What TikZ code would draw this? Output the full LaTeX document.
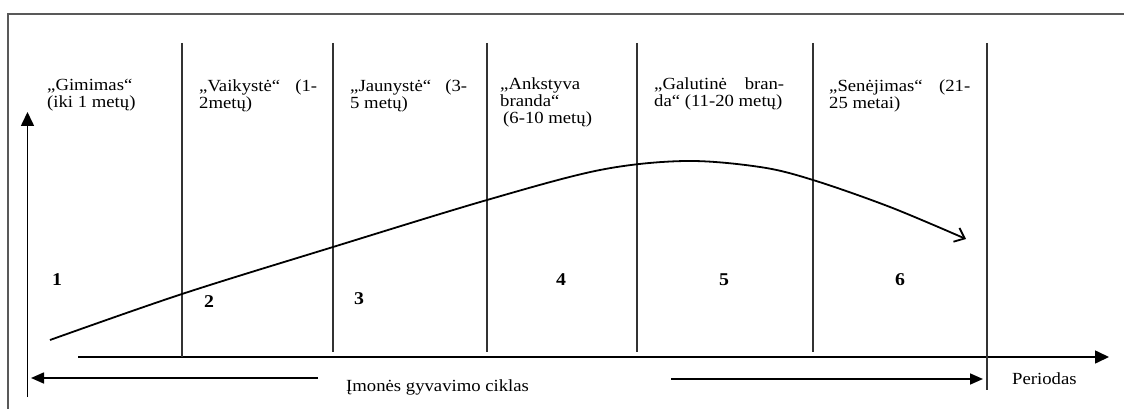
\documentclass[tikz,border=0pt]{standalone}
\usepackage{fontspec}
\setmainfont{Liberation Serif}[FakeStretch=1.1]
\usetikzlibrary{arrows.meta}
\newcommand\lnA[1]{\hbox{\strut #1}}
\begin{document}
\begin{tikzpicture}[x=1pt,y=-1pt,
  lbl/.style={anchor=base west, inner sep=0pt, font=\fontsize{17}{17}\selectfont},
  num/.style={anchor=base, inner sep=0pt, font=\fontsize{18}{18}\selectfont\bfseries},
  divider/.style={line width=1.4pt, black!80},
  frameline/.style={line width=2pt, black!65},
  axisline/.style={line width=1.6pt, -{Triangle[length=14pt,width=13pt]}},
  spanarrow/.style={line width=1.6pt, -{Triangle[length=13pt,width=11pt]}},
  curveline/.style={line width=1.8pt, -{Straight Barb[length=9pt,width=15pt]}}]
\useasboundingbox (0,0) rectangle (1124,409);
% frame
\draw[frameline] (8,409) -- (8,14) -- (1124,14);
% coordinates
\coordinate (vb) at (27.5,397);
\coordinate (vt) at (27.5,112);
\coordinate (hl) at (78,357);
\coordinate (hr) at (1109,357);
\coordinate (d1t) at (182,43); \coordinate (d1b) at (182,357);
\coordinate (d2t) at (333,43); \coordinate (d2b) at (333,352);
\coordinate (d3t) at (487,43); \coordinate (d3b) at (487,352);
\coordinate (d4t) at (637,43); \coordinate (d4b) at (637,352);
\coordinate (d5t) at (813,43); \coordinate (d5b) at (813,352);
\coordinate (d6t) at (987,43); \coordinate (d6b) at (987,390);
\coordinate (la) at (318,378); \coordinate (lt) at (31,378);
\coordinate (ra) at (671,379); \coordinate (rt) at (983,379);
% axes
\draw[axisline] (vb) -- (vt);
\draw[axisline] (hl) -- (hr);
% dividers
\foreach \i in {1,...,6} \draw[divider] (d\i t) -- (d\i b);
% span arrows
\draw[spanarrow] (la) -- (lt);
\draw[spanarrow] (ra) -- (rt);
% curve
\draw[curveline] plot[smooth, tension=0.55] coordinates
  {(50,340) (182,294) (333,247) (487,200) (600,170) (685,161) (760,167) (813,180) (890,207) (966,239)};
% stage labels
\node[lbl] (s1) at (47,91) {\vtop{\hbox{„Gimimas“}\hbox{(iki 1 metų)}}};
\node[lbl] (s2) at (199,92) {\vtop{\hbox{\makebox[118pt][s]{„Vaikystė“ (1-}}\hbox{2metų)}}};
\node[lbl] (s3) at (350,92) {\vtop{\hbox{\makebox[117pt][s]{„Jaunystė“ (3-}}\hbox{5 metų)}}};
\node[lbl] (s4) at (500,90) {\vtop{\hbox{„Ankstyva}\hbox{branda“}\hbox{\hspace{3pt}(6-10 metų)}}};
\node[lbl] (s5) at (654,90) {\vtop{\hbox{\makebox[130pt][s]{„Galutinė bran-}}\hbox{da“ (11-20 metų)}}};
\node[lbl] (s6) at (829,92) {\vtop{\hbox{\makebox[141pt][s]{„Senėjimas“ (21-}}\hbox{25 metai)}}};
% numbers
\node[num] (n1) at (57,285) {1};
\node[num] (n2) at (209,307) {2};
\node[num] (n3) at (359,304) {3};
\node[num] (n4) at (561,285) {4};
\node[num] (n5) at (724,285) {5};
\node[num] (n6) at (900,285) {6};
% axis texts
\node[lbl] (cyc) at (346,391) {Įmonės gyvavimo ciklas};
\node[lbl] (per) at (1012,384) {Periodas};
\end{tikzpicture}
\end{document}
